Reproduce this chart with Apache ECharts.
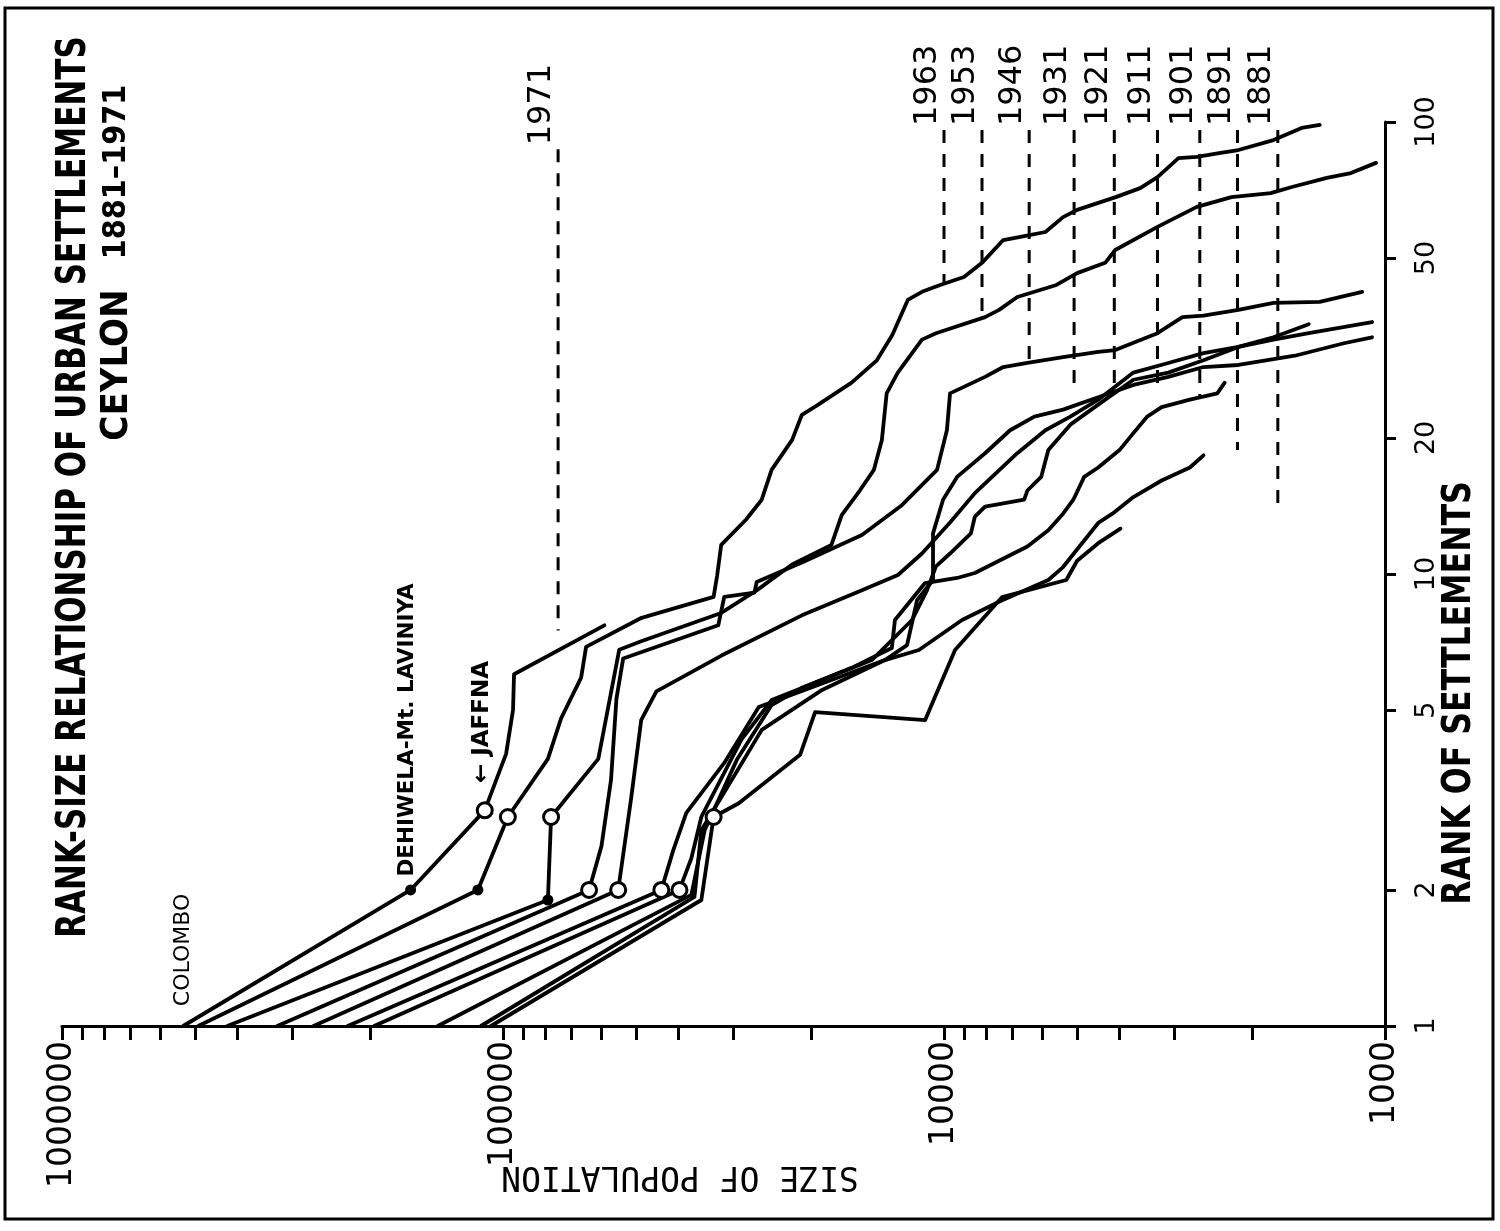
<!DOCTYPE html>
<html><head><meta charset="utf-8">
<script src="https://cdn.jsdelivr.net/npm/echarts@6/dist/echarts.min.js"></script>
<style>html,body{margin:0;padding:0;background:#fff}#c{width:1500px;height:1231px}</style>
</head><body><div id="c"></div>
<script>
// ---------- data (rank of settlement, population) ----------
const years = ['1881','1891','1901','1911','1921','1931','1946','1953','1963','1971'];

const rank1971 = [1, 2, 3, 4, 5, 6, 7.7];
const pop1971  = [531000, 162000, 110000, 98400, 94900, 94400, 58900];

const rank1963 = [1, 2, 2.9, 3.9, 4.8, 5.9, 6.9, 8, 8.9, 9.9, 11.6, 13.2, 14.6, 17, 19.8, 22.5, 23.6, 26.5, 29.7, 33.8, 40.4, 42.1, 43.6, 45.4, 48.8, 54.8, 55.7, 57.1, 61.6, 63.9, 68.2, 71.4, 75.5, 83.2, 83.7, 85.4, 86.7, 91.2, 97, 98.5];
const pop1963  = [491000, 114000, 97500, 79100, 73800, 66500, 64800, 48500, 33300, 32700, 32000, 28100, 25900, 24600, 22100, 21000, 19400, 16200, 14200, 13100, 12080, 11220, 10200, 9010, 8200, 7340, 6710, 5890, 5370, 4990, 4080, 3590, 3280, 2940, 2670, 2360, 2150, 1790, 1545, 1406];

const rank1953 = [1, 1.9, 2.9, 3.9, 6.8, 7.1, 8.2, 9.2, 10.5, 11.6, 13.5, 15.3, 17, 19.8, 25.1, 27.9, 33, 34.1, 37, 38.4, 41, 43.6, 46.3, 48.8, 52.1, 58.6, 64.9, 68.2, 69.6, 71.8, 75.2, 77.1, 81.2];
const pop1953  = [422000, 79100, 77800, 60800, 54500, 48600, 32000, 26600, 22100, 18000, 17060, 15520, 14420, 13830, 13490, 12730, 11220, 10430, 8070, 7500, 6820, 5560, 4990, 4310, 4090, 3280, 2670, 2230, 1816, 1626, 1355, 1195, 1048];

const rank1946 = [1, 2, 2.5, 3.5, 5.3, 6.5, 7.7, 8.9, 9.1, 9.6, 10.6, 12.2, 14.2, 17, 20.8, 25.1, 27.3, 28.7, 29.3, 30.2, 31, 31.3, 34.1, 37, 37.3, 38.4, 39.8, 40, 42.1];
const pop1946  = [325000, 63800, 59800, 56900, 55300, 53400, 32500, 31500, 26900, 26600, 21000, 15350, 12460, 10370, 9850, 9690, 8070, 7340, 6470, 5370, 4470, 4090, 3280, 2880, 2580, 2150, 1790, 1406, 1127];

const rank1931 = [1, 2, 3.2, 4.75, 5.5, 6.6, 8.1, 9.2, 9.95, 11.1, 13, 15.1, 16.4, 18.5, 20.8, 22.3, 24.3, 27.9, 29.3, 30.8, 31.8, 33, 34.1, 36.1];
const pop1931  = [269000, 54800, 51200, 48600, 44900, 31960, 21000, 15350, 12720, 11220, 9690, 8510, 7780, 6820, 5890, 5170, 4470, 3720, 3100, 2580, 2150, 1790, 1489, 1070];

const rank1921 = [1, 2, 2.45, 2.96, 3.82, 5.08, 5.54, 6.45, 6.96, 8.75, 9.7, 12.3, 14.6, 16.4, 18.5, 20.8, 22.3, 23.1, 24.6, 26.2, 27.3, 28.7, 29, 30.4, 32.4, 33.4];
const pop1921  = [225000, 43750, 41100, 38400, 31500, 26300, 20700, 13610, 12130, 11510, 10590, 10590, 10050, 9340, 8070, 7080, 6240, 5370, 4470, 3720, 3100, 2580, 2150, 1601, 1239, 1070];

const rank1911 = [1, 2, 2.35, 2.9, 4.3, 5.26, 5.83, 6.45, 7.9, 9.2, 10.4, 11.1, 12.3, 13.4, 14.1, 14.6, 15.3, 16.4, 18.8, 21.4, 23.7, 26.9, 27.9, 29.7, 31.8, 33.4, 35.7];
const pop1911  = [196000, 39800, 37400, 35500, 28800, 24600, 18900, 14580, 11830, 10930, 10430, 9690, 8690, 8510, 8070, 6580, 6470, 6020, 5800, 5170, 4470, 3720, 3100, 2580, 2150, 1790, 1489];

const rank1901 = [1, 1.95, 2.71, 3.88, 5.13, 5.6, 6.2, 6.86, 7.91, 9.55, 9.8, 10.05, 10.7, 11.5, 12.5, 13.6, 14.6, 16.4, 17.2, 18.8, 20.5, 22.3, 23.4, 24.3, 25.1, 26.5];
const pop1901  = [140600, 37400, 34900, 29500, 24600, 21000, 16200, 13130, 12920, 11040, 9340, 8510, 7500, 6470, 5800, 5370, 5090, 4810, 4470, 4000, 3720, 3460, 3210, 2770, 2400, 2310];

const rank1891 = [1, 1.93, 2.71, 3.5, 4.52, 5.54, 6.45, 6.79, 7.91, 8.75, 9.7, 10.36, 12.97, 13.6, 14.8, 16.1, 17.2, 18.3];
const pop1891  = [112200, 36800, 35500, 30300, 25900, 18900, 13610, 11400, 9100, 7380, 5800, 5370, 4470, 4150, 3720, 3210, 2770, 2580];

const rank1881 = [1, 1.9, 2.9, 3.11, 3.98, 4.95, 4.75, 6.79, 8.89, 9.7, 10.7, 11.7, 12.6];
const pop1881  = [106500, 35500, 33300, 29200, 21200, 19600, 11040, 9440, 7380, 5280, 4990, 4470, 3980];

// marked towns (index into the arrays): Dehiwela-Mt. Lavinia (dot), Jaffna (circle)
const dotIndex    = {'1971': 1, '1963': 1, '1953': 1};
const circleIndex = {'1971': 2, '1963': 2, '1953': 2, '1946': 1, '1931': 1, '1921': 1, '1911': 1, '1881': 2};

// year labels with dashed leaders
const leaderYears   = ['1971','1963','1953','1946','1931','1921','1911','1901','1891','1881'];
const leaderPop     = [75000, 10000, 8200, 6410, 5070, 4110, 3280, 2630, 2160, 1750];
const leaderTopRank = [87, 96, 96, 96, 96, 96, 96, 96, 96, 96];
const leaderEndRank = [7.5, 43.6, 37.8, 29.3, 25.1, 25.1, 25.1, 24.6, 18.8, 14.2];

// axes
const popTicks  = [1000,2000,3000,4000,5000,6000,7000,8000,9000,10000,20000,30000,40000,50000,60000,70000,80000,90000,100000,200000,300000,400000,500000,600000,700000,800000,900000,1000000];
const popLabels = [1000, 10000, 100000, 1000000];
const rankTicks = [1, 2, 5, 10, 20, 50, 100];

const seriesData = {
  '1881': [rank1881, pop1881], '1891': [rank1891, pop1891], '1901': [rank1901, pop1901],
  '1911': [rank1911, pop1911], '1921': [rank1921, pop1921], '1931': [rank1931, pop1931],
  '1946': [rank1946, pop1946], '1953': [rank1953, pop1953], '1963': [rank1963, pop1963],
  '1971': [rank1971, pop1971]
};

const series = [];
years.forEach(y => {
  const [ranks, pops] = seriesData[y];
  const data = ranks.map((r, i) => {
    const item = { value: [pops[i], r] };
    if (dotIndex[y] === i) {
      item.symbol = 'circle'; item.symbolSize = 11;
      item.itemStyle = { color: '#000', borderColor: '#000', borderWidth: 0 };
    }
    if (circleIndex[y] === i) {
      item.symbol = 'circle'; item.symbolSize = 15;
      item.itemStyle = { color: '#fff', borderColor: '#000', borderWidth: 3 };
    }
    return item;
  });
  series.push({
    type: 'line', name: y, data: data, symbol: 'none', showSymbol: true,
    lineStyle: { color: '#000', width: 3.8, join: 'round', cap: 'round' },
    z: 3, silent: true, animation: false, clip: false
  });
});
leaderYears.forEach((y, i) => {
  series.push({
    type: 'line', name: 'leader' + y, symbol: 'none',
    data: [[leaderPop[i], leaderTopRank[i]], [leaderPop[i], leaderEndRank[i]]],
    lineStyle: { color: '#000', width: 3, type: [13, 11] },
    z: 2, silent: true, animation: false
  });
});

const chart = echarts.init(document.getElementById('c'), null, { renderer: 'canvas', width: 1500, height: 1231 });
const option = {
  backgroundColor: '#fff',
  animation: false,
  grid: { left: 62, right: 115, top: 122, bottom: 205 },
  xAxis: {
    type: 'log', logBase: 10, min: 1000, max: 1000000, inverse: true, position: 'bottom',
    axisLine: { show: true, onZero: false, lineStyle: { color: '#000', width: 3 } },
    axisTick: { show: true, length: 14, lineStyle: { color: '#000', width: 3 }, customValues: popTicks },
    axisLabel: { show: true, customValues: popLabels, rotate: 90, margin: 15, color: '#000',
      fontFamily: 'DejaVu Sans', fontSize: 33, formatter: v => String(Math.round(v)) },
    splitLine: { show: false }, minorTick: { show: false }
  },
  yAxis: {
    type: 'log', logBase: 10, min: 1, max: 100, position: 'right',
    axisLine: { show: true, onZero: false, lineStyle: { color: '#000', width: 3 } },
    axisTick: { show: true, length: 11, lineStyle: { color: '#000', width: 3 }, customValues: rankTicks },
    axisLabel: { show: true, customValues: rankTicks, rotate: 90, margin: 28, color: '#000',
      fontFamily: 'DejaVu Sans', fontSize: 27, formatter: v => String(Math.round(v)) },
    splitLine: { show: false }
  },
  series: series
};
chart.setOption(option);

// ---------- texts ----------
const condensed = '"Liberation Sans Narrow", "DejaVu Sans Condensed", "DejaVu Sans", sans-serif';
const g = [
  { type: 'rect', shape: { x: 5, y: 8, width: 1488, height: 1211 }, style: { fill: 'none', stroke: '#000', lineWidth: 3 }, z: 10 },
  { type: 'text', x: 75, y: 487, rotation: Math.PI / 2, scaleX: 0.862, z: 10,
    style: { text: 'RANK-SIZE RELATIONSHIP OF URBAN SETTLEMENTS', fontFamily: condensed, fontWeight: 'bold', fontSize: 40, fill: '#000', align: 'center', verticalAlign: 'middle' } },
  { type: 'text', x: 117, y: 365, rotation: Math.PI / 2, z: 10,
    style: { text: 'CEYLON', fontFamily: condensed, fontWeight: 'bold', fontSize: 38, fill: '#000', align: 'center', verticalAlign: 'middle' } },
  { type: 'text', x: 117, y: 172, rotation: Math.PI / 2, z: 10,
    style: { text: '1881\u20131971', fontFamily: condensed, fontWeight: 'bold', fontSize: 32, fill: '#000', align: 'center', verticalAlign: 'middle' } },
  { type: 'text', x: 1460, y: 693, rotation: Math.PI / 2, scaleX: 0.9, z: 10,
    style: { text: 'RANK OF SETTLEMENTS', fontFamily: condensed, fontWeight: 'bold', fontSize: 39, fill: '#000', align: 'center', verticalAlign: 'middle' } },
  { type: 'text', x: 680, y: 1176, rotation: Math.PI, z: 10,
    style: { text: 'SIZE OF POPULATION', fontFamily: '"DejaVu Sans Mono", monospace', fontSize: 33, fill: '#000', align: 'center', verticalAlign: 'middle' } },
  { type: 'text', x: 183, y: 950, rotation: Math.PI / 2, z: 10,
    style: { text: 'COLOMBO', fontFamily: 'DejaVu Sans', fontSize: 22, fill: '#000', align: 'center', verticalAlign: 'middle' } },
  { type: 'text', x: 407, y: 730, rotation: Math.PI / 2, z: 10,
    style: { text: 'DEHIWELA-Mt. LAVINIYA', fontFamily: 'DejaVu Sans', fontWeight: 'bold', fontSize: 21.5, fill: '#000', align: 'center', verticalAlign: 'middle' } },
  { type: 'text', x: 482, y: 722, rotation: Math.PI / 2, z: 10,
    style: { text: '\u2190 JAFFNA', fontFamily: 'DejaVu Sans', fontWeight: 'bold', fontSize: 23, fill: '#000', align: 'center', verticalAlign: 'middle' } }
];
leaderYears.forEach((y, i) => {
  const p = chart.convertToPixel({ gridIndex: 0 }, [leaderPop[i], leaderTopRank[i]]);
  g.push({ type: 'text', x: p[0] - 16, y: p[1] - 4, rotation: Math.PI / 2, z: 10,
    style: { text: y, fontFamily: 'DejaVu Sans', fontSize: 32, fill: '#000', align: 'left', verticalAlign: 'middle' } });
});
chart.setOption({ graphic: g });
</script></body></html>
